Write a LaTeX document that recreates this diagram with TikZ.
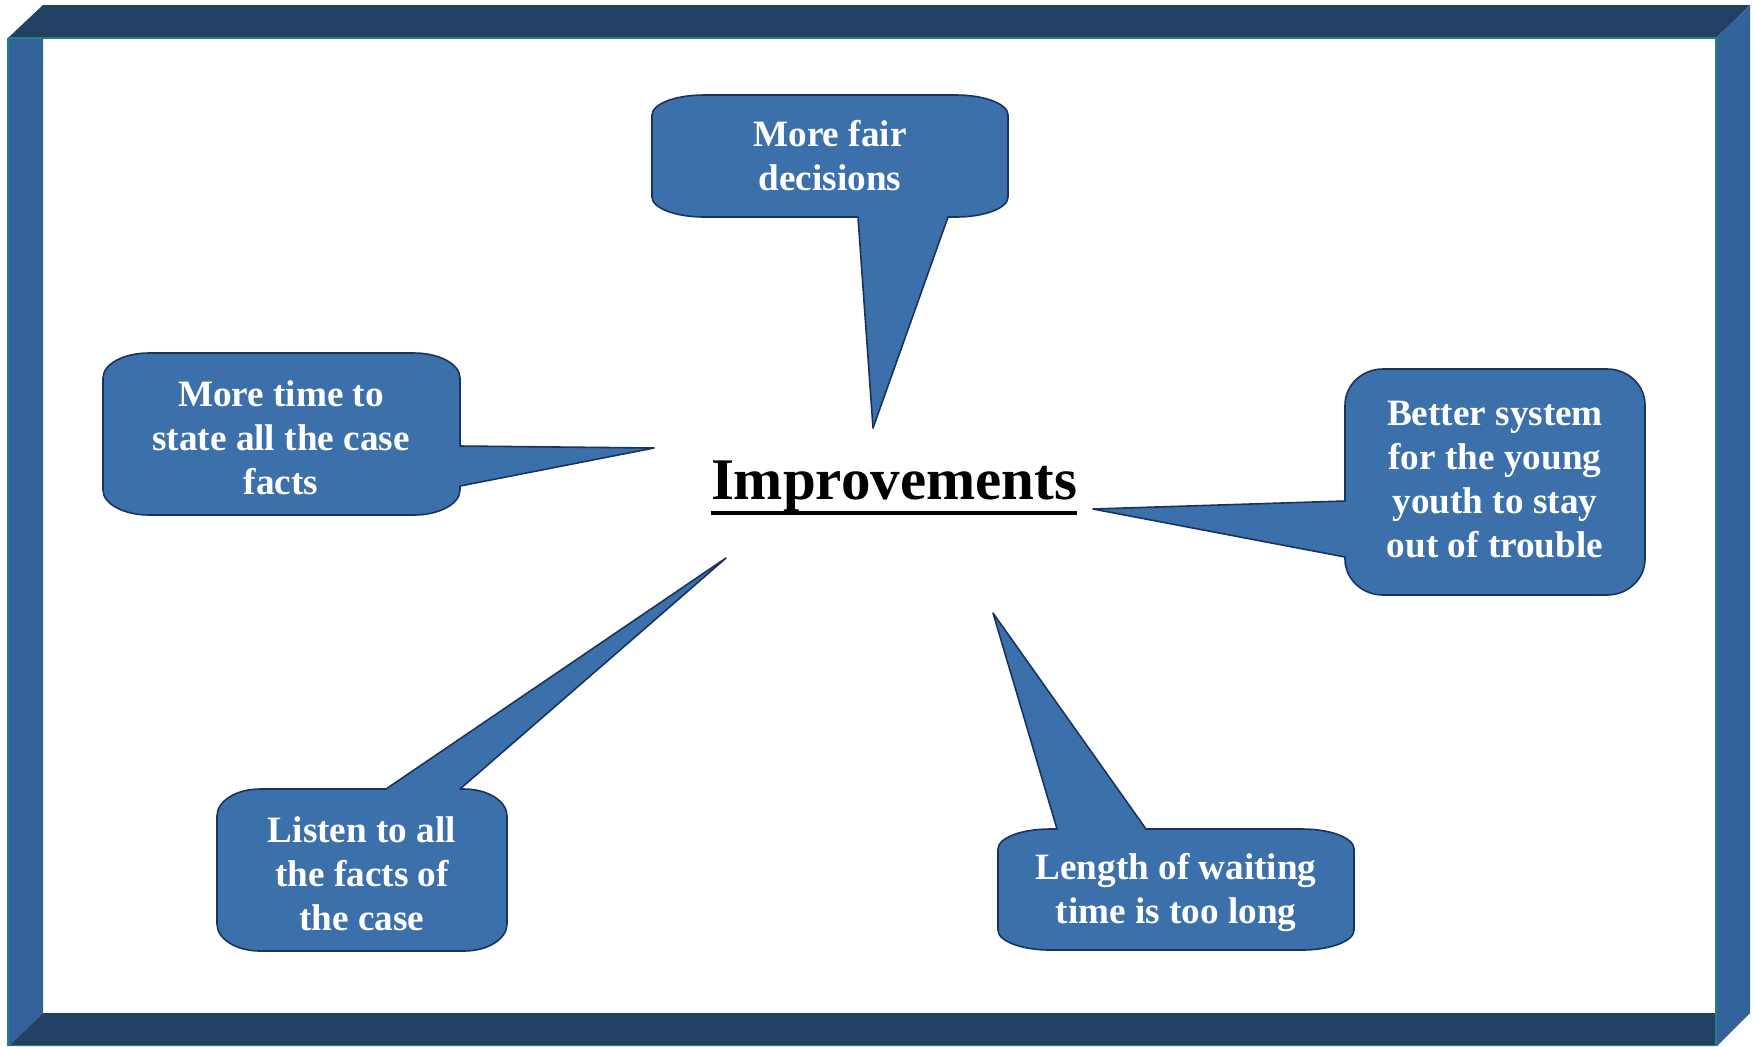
\documentclass[tikz,border=0pt]{standalone}
\usepackage{fontspec}
\setmainfont{Liberation Serif}
\definecolor{framedark}{RGB}{34,64,99}
\definecolor{frameside}{RGB}{49,99,154}
\definecolor{frameteal}{RGB}{38,128,128}
\definecolor{callfill}{RGB}{60,112,170}
\definecolor{calldraw}{RGB}{24,52,94}
\tikzset{
  callbox/.style={fill=callfill, draw=calldraw, line width=0.8pt, line join=round},
  calltext/.style={text=white, font=\bfseries\fontsize{18.6}{22}\selectfont, align=center, inner sep=0pt},
  tealline/.style={draw=frameteal, line width=1pt},
}
\newcommand\kk{0.4477}
% rounded box with elliptic corners; #1 top, #2 right, #3 bottom, #4 left tail inserts
\newcommand\cshape[4]{({\cxa+\crx},\cya) #1 -- ({\cxb-\crx},\cya)
  .. controls ({\cxb-\kk*\crx},\cya) and (\cxb,{\cya+\kk*\cry}) .. (\cxb,{\cya+\cry})
  #2 -- (\cxb,{\cyb-\cry})
  .. controls (\cxb,{\cyb-\kk*\cry}) and ({\cxb-\kk*\crx},\cyb) .. ({\cxb-\crx},\cyb)
  #3 -- ({\cxa+\crx},\cyb)
  .. controls ({\cxa+\kk*\crx},\cyb) and (\cxa,{\cyb-\kk*\cry}) .. (\cxa,{\cyb-\cry})
  #4 -- (\cxa,{\cya+\cry})
  .. controls (\cxa,{\cya+\kk*\cry}) and ({\cxa+\kk*\crx},\cya) .. ({\cxa+\crx},\cya) -- cycle}
\begin{document}
\begin{tikzpicture}[x=0.5pt,y=-0.5pt]
\useasboundingbox (0,0) rectangle (1759,1046);
\fill[white] (0,0) rectangle (1759,1046);
% frame
\fill[framedark] (43,5) -- (1750,5) -- (1716,38) -- (8,38) -- cycle;
\fill[frameside] (8,38) -- (43,38) -- (43,1013) -- (9,1046) -- (8,1046) -- cycle;
\fill[framedark] (43,1013) -- (1716,1013) -- (1716,1046) -- (9,1046) -- cycle;
\fill[frameside] (1716,38) -- (1750,5) -- (1750,1013) -- (1717,1046) -- (1716,1046) -- cycle;
\draw[tealline] (8,38) -- (8,1046);
\draw[tealline] (8,38) -- (1716,38) -- (1716,1046);
\draw[tealline, line width=0.6pt] (9,1045.5) -- (1716,1045.5);
% callout 1: More fair decisions (tail down)
\def\cxa{652}\def\cya{95}\def\cxb{1008}\def\cyb{217}\def\crx{52}\def\cry{20}
\coordinate (t1) at (873,428);
\draw[callbox] \cshape{}{}{-- (948,\cyb) -- (t1) -- (858,\cyb)}{};
\node[calltext] (c1) at (830,156) {More fair\\decisions};
% callout 2: More time ... (tail right)
\def\cxa{103}\def\cya{353}\def\cxb{460}\def\cyb{515}\def\crx{46}\def\cry{25}
\coordinate (t2) at (654,448);
\draw[callbox] \cshape{}{-- (\cxb,446) -- (t2) -- (\cxb,486)}{}{};
\node[calltext] (c2) at (281,438) {More time to\\state all the case\\facts};
% callout 3: Better system ... (tail left)
\def\cxa{1345}\def\cya{369}\def\cxb{1645}\def\cyb{595}\def\crx{38}\def\cry{36}
\coordinate (t3) at (1093,509);
\draw[callbox] \cshape{}{}{}{-- (\cxa,557) -- (t3) -- (\cxa,501)};
\node[calltext] (c3) at (1495,480) {Better system\\for the young\\youth to stay\\out of trouble};
% callout 4: Listen to all ... (tail up)
\def\cxa{217}\def\cya{789}\def\cxb{507}\def\cyb{951}\def\crx{43}\def\cry{27}
\coordinate (t4) at (726,558);
\draw[callbox] \cshape{-- (386,\cya) -- (t4) -- (460,\cya)}{}{}{};
\node[calltext] (c4) at (362,874) {Listen to all\\the facts of\\the case};
% callout 5: Length of waiting ... (tail up)
\def\cxa{998}\def\cya{829}\def\cxb{1354}\def\cyb{950}\def\crx{52}\def\cry{20}
\coordinate (t5) at (993,613);
\draw[callbox] \cshape{-- (1057,\cya) -- (t5) -- (1146,\cya)}{}{}{};
\node[calltext] (c5) at (1176,892) {Length of waiting\\time is too long};
% title
\node[inner sep=0pt, anchor=base, font=\bfseries\fontsize{29.5}{32}\selectfont] (imp) at (894,499) {Improvements};
\draw[line width=2pt] ([yshift=-7pt]imp.base west) -- ([yshift=-7pt]imp.base east);
\end{tikzpicture}
\end{document}
